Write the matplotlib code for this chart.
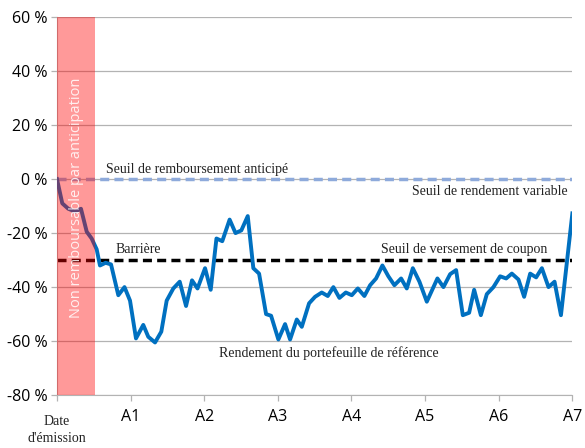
import matplotlib
matplotlib.use('Agg')

import matplotlib.pyplot as plt

# years since issue date, portfolio return (%)
years = [0.0, 0.072, 0.154, 0.245, 0.326, 0.404, 0.471, 0.539, 0.584, 0.66, 0.734,
         0.833, 0.917, 0.992, 1.073, 1.172, 1.240, 1.332, 1.417, 1.490, 1.580,
         1.667, 1.753, 1.834, 1.909, 2.011, 2.088, 2.166, 2.245, 2.345, 2.425,
         2.504, 2.591, 2.667, 2.745, 2.840, 2.908, 3.007, 3.098, 3.166, 3.257,
         3.325, 3.424, 3.505, 3.596, 3.678, 3.754, 3.836, 3.923, 4.004, 4.086,
         4.175, 4.253, 4.334, 4.420, 4.501, 4.583, 4.674, 4.751, 4.833, 4.923,
         5.023, 5.167, 5.249, 5.340, 5.421, 5.512, 5.598, 5.666, 5.757, 5.838,
         5.928, 6.019, 6.101, 6.178, 6.268, 6.345, 6.427, 6.508, 6.586, 6.676,
         6.758, 6.845, 7.0]
rendement = [0, -9, -11, -12, -11, -19.5, -22, -26, -32, -31, -31.6,
             -43, -40, -45, -59, -54, -58.4, -60.5, -56.5, -45, -40.5,
             -38, -47, -37.5, -40.5, -33, -41, -22, -23, -15, -20,
             -19, -13.7, -33, -35, -50, -50.6, -59.4, -53.7, -59.4, -52,
             -54.7, -46, -43.6, -42, -43.3, -40, -44, -42, -43, -40.5,
             -43.3, -39.3, -36.8, -32, -36, -39.3, -36.8, -40.5, -33, -38,
             -45.4, -36.8, -40, -35.2, -33.7, -50.4, -49.5, -41, -50.4, -42.6,
             -40, -36, -36.8, -35, -37.2, -43.6, -35, -36.4, -33, -40,
             -38, -50.4, -12.7]

tick_pos = [0, 1, 2, 3, 4, 5, 6, 7]
tick_labels = ['', 'A1', 'A2', 'A3', 'A4', 'A5', 'A6', 'A7']
y_ticks = [60, 40, 20, 0, -20, -40, -60, -80]

seuil_remboursement = 0
barriere = -30
fin_non_remboursable = 0.52

fig = plt.figure(figsize=(5.85, 4.48), dpi=100)
ax = fig.add_axes([0.0974, 0.118, 0.881, 0.844])

grey = '#b3b3b3'
for y in y_ticks:
    ax.axhline(y, color=grey, lw=0.9, zorder=0)

ax.plot([0, 7], [seuil_remboursement] * 2, color='#8eaadb', lw=2.5,
        linestyle=(0, (2.6, 1.5)), zorder=2)
ax.plot([0, 7], [barriere] * 2, color='black', lw=2.5,
        linestyle=(0, (2.6, 1.5)), zorder=2)
ax.plot(years, rendement, color='#0070c0', lw=2.8, zorder=3)

# band on top, semi-transparent red
ax.axvspan(0, fin_non_remboursable, color='red', alpha=0.4, lw=0, zorder=4)
ax.text(fin_non_remboursable / 2, -7, 'Non remboursable par anticipation',
        rotation=90, ha='center', va='center', color='white', alpha=0.85,
        fontsize=10.5, family='Open Sans', zorder=5)

serif = 'Liberation Serif'
ax.text(0.67, 1.2, 'Seuil de remboursement anticipé', fontsize=10,
        family=serif, ha='left', va='bottom', color='#222222')
ax.text(6.93, -2.2, 'Seuil de rendement variable', fontsize=10,
        family=serif, ha='right', va='top', color='#222222')
ax.text(0.8, -28.5, 'Barrière', fontsize=10,
        family=serif, ha='left', va='bottom', color='#222222')
ax.text(4.4, -28.5, 'Seuil de versement de coupon', fontsize=10,
        family=serif, ha='left', va='bottom', color='#222222')
ax.text(2.2, -62, 'Rendement du portefeuille de référence', fontsize=10,
        family=serif, ha='left', va='top', color='#222222')

ax.set_xlim(0, 7)
ax.set_ylim(-80, 60)
ax.set_yticks(y_ticks)
ax.set_yticklabels([f'{y} %' for y in y_ticks], fontsize=11.5, family='Open Sans')
ax.set_xticks(tick_pos)
ax.set_xticklabels(tick_labels, fontsize=11.5, family='Open Sans')
ax.text(0, -87.5, "Date\nd'émission", ha='center', va='top', fontsize=10,
        family=serif, linespacing=1.4, color='#222222')

for s in ['top', 'right']:
    ax.spines[s].set_visible(False)
for s in ['left', 'bottom']:
    ax.spines[s].set_color(grey)
ax.tick_params(axis='both', color=grey, length=4, width=0.9, pad=3)
ax.tick_params(axis='x', pad=6)

fig.savefig('out.png', dpi=100)
